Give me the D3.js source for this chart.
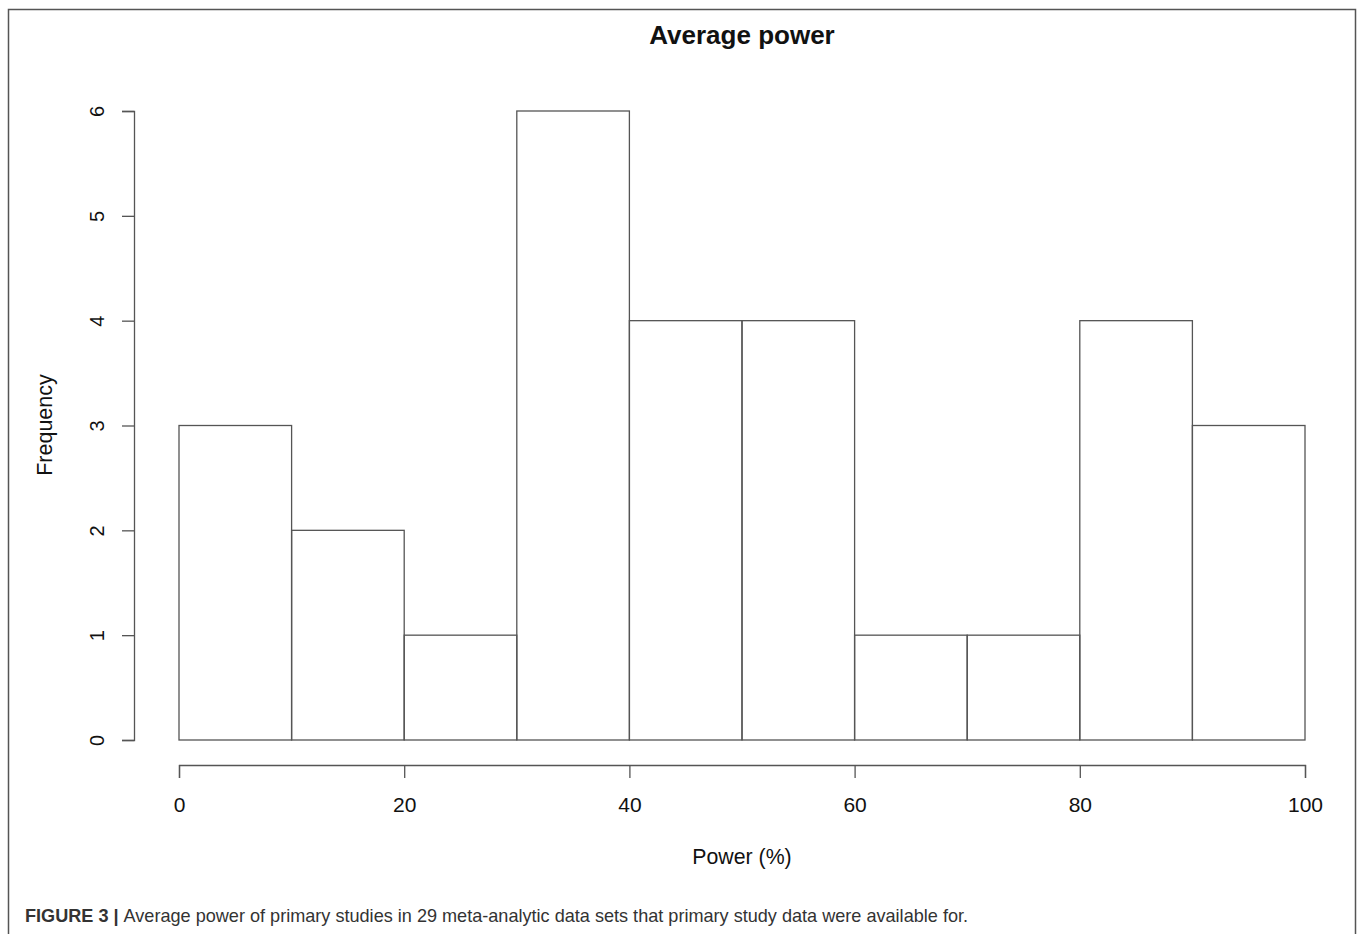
<!DOCTYPE html>
<html>
<head>
<meta charset="utf-8">
<script src="https://cdn.jsdelivr.net/npm/d3@7"></script>
<style>
  html, body { margin: 0; padding: 0; background: #fff; }
  svg { display: block; font-family: "Liberation Sans", Arial, sans-serif; }
</style>
</head>
<body>
<div id="chart"></div>
<script>
// histogram of average power, bins of 10%
var binStarts = [0, 10, 20, 30, 40, 50, 60, 70, 80, 90];
var binWidth = 10;
var counts = [3, 2, 1, 6, 4, 4, 1, 1, 4, 3];
var xTicks = [0, 20, 40, 60, 80, 100];
var yTicks = [0, 1, 2, 3, 4, 5, 6];

var W = 1358, H = 934;
var svg = d3.select('#chart').append('svg')
    .attr('width', W).attr('height', H);

// outer frame
svg.append('path')
    .attr('d', 'M8.5,934 V9.5 H1355.5 V934')
    .attr('fill', 'none').attr('stroke', '#555').attr('stroke-width', 1.5);

var x = d3.scaleLinear().domain([0, 100]).range([179, 1305]);
var y = d3.scaleLinear().domain([0, 6]).range([740, 111]);

// bars
svg.append('g').selectAll('rect')
    .data(counts)
  .enter().append('rect')
    .attr('x', function(d, i) { return x(binStarts[i]); })
    .attr('y', function(d) { return y(d); })
    .attr('width', function(d, i) { return x(binStarts[i] + binWidth) - x(binStarts[i]); })
    .attr('height', function(d) { return y(0) - y(d); })
    .attr('fill', 'none')
    .attr('stroke', '#555')
    .attr('stroke-width', 1.3);

// x axis
var xAxis = svg.append('g')
    .attr('transform', 'translate(0,765)')
    .call(d3.axisBottom(x).tickValues(xTicks).tickSize(13).tickPadding(19).tickFormat(d3.format('d')));
xAxis.select('.domain').attr('stroke', '#555').attr('stroke-width', 1.3);
xAxis.selectAll('.tick line').attr('stroke', '#555').attr('stroke-width', 1.3);
xAxis.selectAll('.tick text').attr('font-size', 21).attr('fill', '#111')
    .attr('font-family', '"Liberation Sans", Arial, sans-serif');

// y axis
var yAxis = svg.append('g')
    .attr('transform', 'translate(134,0)')
    .call(d3.axisLeft(y).tickValues(yTicks).tickSize(12).tickFormat(d3.format('d')));
yAxis.select('.domain').attr('stroke', '#555').attr('stroke-width', 1.3);
yAxis.selectAll('.tick line').attr('stroke', '#555').attr('stroke-width', 1.3);
yAxis.selectAll('.tick text')
    .attr('x', null).attr('dy', null)
    .attr('text-anchor', 'middle')
    .attr('transform', 'translate(-30,0) rotate(-90)')
    .attr('font-size', 20).attr('fill', '#111')
    .attr('font-family', '"Liberation Sans", Arial, sans-serif');

// title
svg.append('text')
    .attr('x', 742).attr('y', 44)
    .attr('text-anchor', 'middle')
    .attr('font-size', 26).attr('font-weight', 'bold').attr('fill', '#111')
    .text('Average power');

// axis labels
svg.append('text')
    .attr('x', 742).attr('y', 864)
    .attr('text-anchor', 'middle')
    .attr('font-size', 21.3).attr('fill', '#111')
    .text('Power (%)');

svg.append('text')
    .attr('transform', 'translate(52,425) rotate(-90)')
    .attr('text-anchor', 'middle')
    .attr('font-size', 21.5).attr('fill', '#111')
    .text('Frequency');

// caption
var cap = svg.append('text')
    .attr('x', 25).attr('y', 922)
    .attr('font-size', 18.1).attr('fill', '#333')
    .attr('font-family', '"Liberation Sans", Arial, sans-serif');
cap.append('tspan').attr('font-weight', 'bold').text('FIGURE 3 | ');
cap.append('tspan').text('Average power of primary studies in 29 meta-analytic data sets that primary study data were available for.');
</script>
</body>
</html>
